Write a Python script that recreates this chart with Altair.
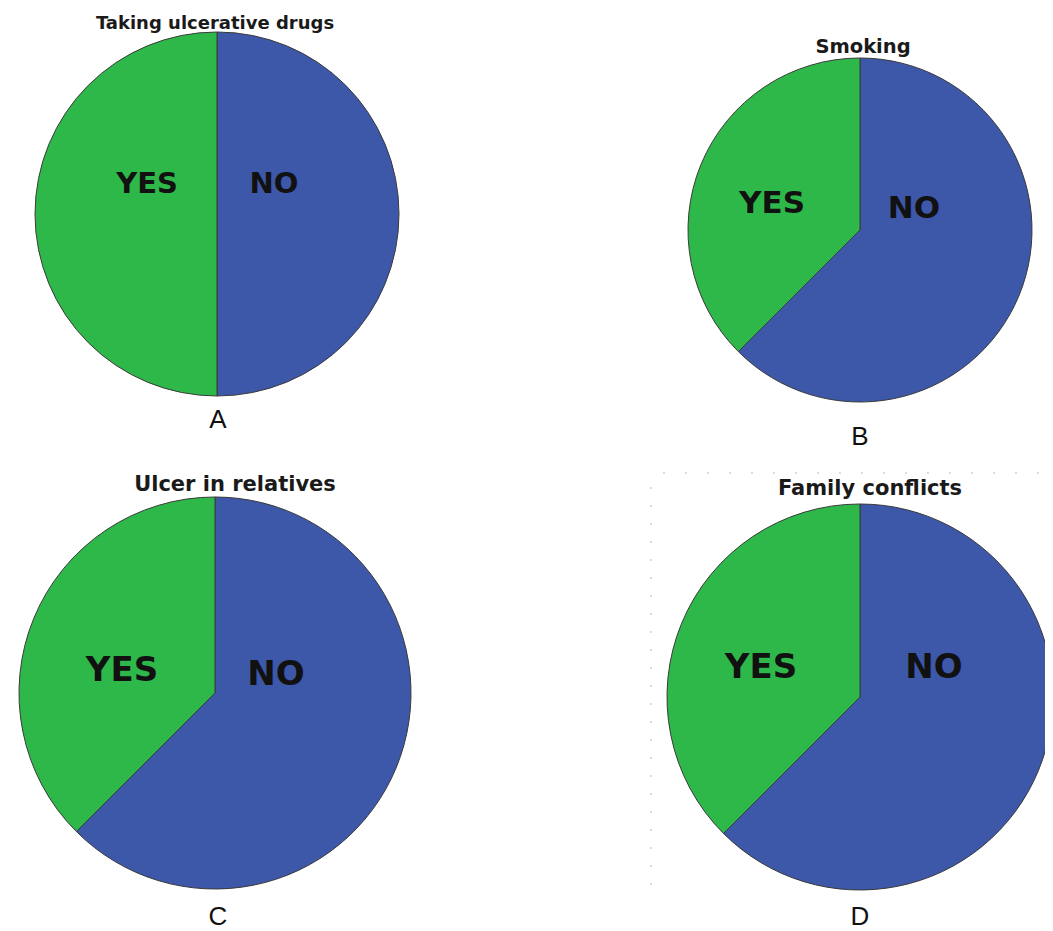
import altair as alt
import pandas as pd

# ---------------- data ----------------
panels = ["A", "B", "C", "D"]
titles = ["Taking ulcerative drugs", "Smoking", "Ulcer in relatives", "Family conflicts"]
answers = ["NO", "YES"]
no_share = [50.0, 62.5, 62.5, 62.5]
yes_share = [50.0, 37.5, 37.5, 37.5]

rows = []
for i, p in enumerate(panels):
    rows.append({"panel": p, "answer": "NO", "share": no_share[i], "ord": 0})
    rows.append({"panel": p, "answer": "YES", "share": yes_share[i], "ord": 1})
slices = pd.DataFrame(rows)
heads = pd.DataFrame({"panel": panels, "title": titles})

# ---------------- layout (page pixel coordinates) ----------------
M = 8
layout = {
    "A": dict(c=(217, 214), r=182, title=(215, 29, 18), yes=(147, 184), no=(274, 184), fs=29, tag=(218, 428)),
    "B": dict(c=(860, 230), r=172, title=(863, 53, 19.5), yes=(772, 204), no=(914, 209), fs=31, tag=(860, 445)),
    "C": dict(c=(215, 693), r=196, title=(235, 491, 21), yes=(122, 671), no=(276, 675), fs=34, tag=(218, 925)),
    "D": dict(c=(860, 697), r=193, title=(870, 495, 21), yes=(761, 668), no=(934, 668), fs=34, tag=(860, 925)),
}

color_scale = alt.Scale(domain=answers, range=["#3d57a9", "#2eb84a"])

layers = []
base = alt.Chart(slices)
hbase = alt.Chart(heads)
for p in panels:
    L = layout[p]
    cx, cy = L["c"][0] - M, L["c"][1] - M
    layers.append(
        base.transform_filter(alt.datum.panel == p)
        .mark_arc(stroke="#3a3a3a", strokeWidth=1)
        .encode(
            theta=alt.Theta("share:Q", stack=True),
            color=alt.Color("answer:N", scale=color_scale, legend=None),
            order=alt.Order("ord:Q"),
            x=alt.value(cx),
            y=alt.value(cy),
            radius=alt.value(L["r"]),
        )
    )
    for ans, key in (("YES", "yes"), ("NO", "no")):
        layers.append(
            base.transform_filter((alt.datum.panel == p) & (alt.datum.answer == ans))
            .mark_text(font="DejaVu Sans", fontWeight="bold", fontSize=L["fs"],
                       color="#111111", align="center", baseline="middle")
            .encode(text="answer:N", x=alt.value(L[key][0] - M), y=alt.value(L[key][1] - M))
        )
    layers.append(
        hbase.transform_filter(alt.datum.panel == p)
        .mark_text(font="DejaVu Sans", fontWeight="bold", fontSize=L["title"][2],
                   color="#1a1a1a", align="center", baseline="alphabetic")
        .encode(text="title:N", x=alt.value(L["title"][0] - M), y=alt.value(L["title"][1] - M))
    )
    layers.append(
        hbase.transform_filter(alt.datum.panel == p)
        .mark_text(font="Liberation Sans", fontSize=26, color="#111111",
                   align="center", baseline="alphabetic")
        .encode(text="panel:N", x=alt.value(L["tag"][0] - M), y=alt.value(L["tag"][1] - M))
    )

# faint dotted frame near panel D
dots = alt.Chart(pd.DataFrame({"k": [0]}))
layers.append(
    dots.mark_rule(color="#b5b5b5", strokeDash=[2, 20], strokeWidth=1).encode(
        x=alt.value(663 - M), x2=alt.value(1053 - M), y=alt.value(473 - M)
    )
)
layers.append(
    dots.mark_rule(color="#b5b5b5", strokeDash=[2, 16], strokeWidth=1).encode(
        x=alt.value(651 - M), y=alt.value(487 - M), y2=alt.value(885 - M)
    )
)

chart = (
    alt.layer(*layers)
    .properties(width=1037, height=923, padding=0,
                autosize=alt.AutoSizeParams(type="none"), background="white")
    .configure_view(strokeWidth=0)
)

chart.save("out.html", embed_options={"renderer": "svg", "actions": False})
